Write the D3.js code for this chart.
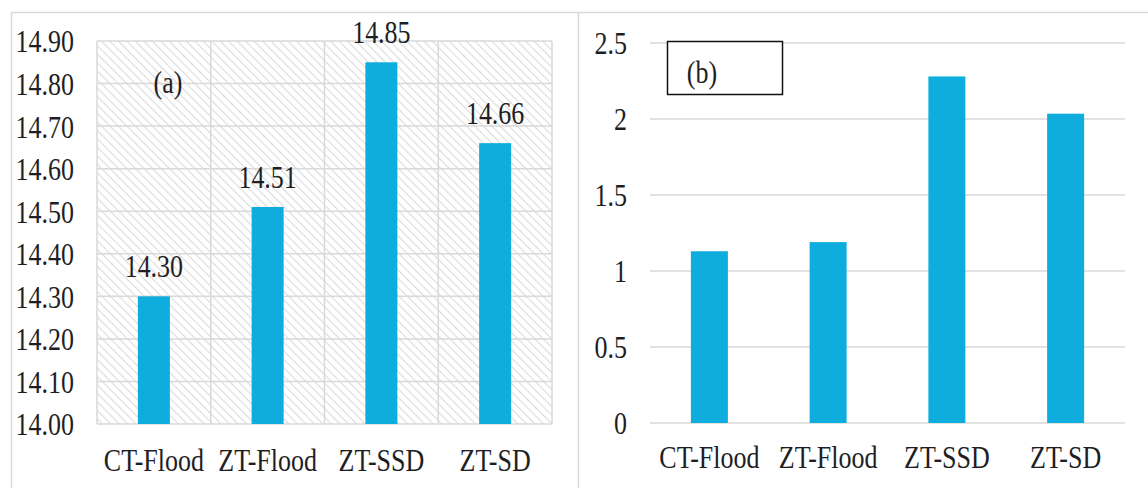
<!DOCTYPE html>
<html><head><meta charset="utf-8">
<script src="https://cdn.jsdelivr.net/npm/d3@7"></script>
<style>html,body{margin:0;padding:0;background:#fff;}svg{display:block;}
svg text{font-family:"Liberation Serif","Times New Roman",Times,serif;}</style>
</head><body>
<svg id="c" width="1148" height="488"></svg>
<script>
const categories = ["CT-Flood", "ZT-Flood", "ZT-SSD", "ZT-SD"];
const valuesA = [14.30, 14.51, 14.85, 14.66];
const labelsA = ["14.30", "14.51", "14.85", "14.66"];
const ticksA = [14.0, 14.1, 14.2, 14.3, 14.4, 14.5, 14.6, 14.7, 14.8, 14.9];
const valuesB = [1.13, 1.19, 2.28, 2.035];
const ticksB = [0, 0.5, 1, 1.5, 2, 2.5];

const FONT = "Liberation Serif";
const TXT = "#1e1e24";
const BAR = "#0eaddd";
const GRID = "#d9d9d9";
const SY = 1.2;

const svg = d3.select("#c");
const defs = svg.append("defs");
const pat = defs.append("pattern").attr("id","hatch").attr("patternUnits","userSpaceOnUse")
  .attr("width",6).attr("height",6).attr("patternTransform","rotate(-45)");
pat.append("rect").attr("width",6).attr("height",6).attr("fill","#fff");
pat.append("line").attr("x1",0).attr("y1",0).attr("x2",0).attr("y2",6)
  .attr("stroke","#dcdcdc").attr("stroke-width",2.2);

// outer frames
svg.append("path").attr("d","M11.5,488 V12.5 H1148 M578.5,12.5 V488")
  .attr("fill","none").attr("stroke",GRID).attr("stroke-width",1.5);

function txt(g, x, y, s, anchor){
  return g.append("text").attr("transform",`translate(${x},${y}) scale(1,${SY})`)
    .attr("text-anchor",anchor||"middle").attr("dy","0.35em")
    .style("font-family",FONT).attr("font-size",26).attr("fill",TXT).text(s);
}

// ---------- panel (a)
{
  const L=97, R=552, T=41, B=424;
  const x = d3.scaleBand().domain(categories).range([L,R]).paddingInner(0).paddingOuter(0);
  const y = d3.scaleLinear().domain([14.0,14.9]).range([B,T]);
  const g = svg.append("g");
  g.append("rect").attr("x",L).attr("y",T).attr("width",R-L).attr("height",B-T).attr("fill","url(#hatch)");
  g.append("g").selectAll("line").data(ticksA).join("line")
    .attr("x1",L).attr("x2",R).attr("y1",d=>y(d)).attr("y2",d=>y(d))
    .attr("stroke",GRID).attr("stroke-width",1.5);
  const bounds = categories.map(c=>x(c)).concat([R]);
  g.append("g").selectAll("line").data(bounds).join("line")
    .attr("x1",d=>d).attr("x2",d=>d).attr("y1",T).attr("y2",B)
    .attr("stroke",GRID).attr("stroke-width",1.5);
  const bw = 32;
  g.append("g").selectAll("rect").data(valuesA).join("rect")
    .attr("x",(d,i)=>x(categories[i])+x.bandwidth()/2-bw/2).attr("width",bw)
    .attr("y",d=>y(d)).attr("height",d=>B-y(d)).attr("fill",BAR);
  valuesA.forEach((v,i)=>txt(g, x(categories[i])+x.bandwidth()/2, y(v)-30, labelsA[i]));
  const ax = d3.axisLeft(y).tickValues(ticksA).tickFormat(d3.format(".2f")).tickSize(0).tickPadding(23);
  const ag = g.append("g").attr("transform",`translate(${L},0)`).call(ax);
  ag.select(".domain").remove();
  ag.attr("font-family",null).attr("font-size",null);
  ag.selectAll("text").style("font-family",FONT).attr("font-size",26).attr("fill",TXT)
    .attr("dy","0.35em").attr("transform",`scale(1,${SY})`);
  categories.forEach(c=>txt(g, x(c)+x.bandwidth()/2, 460, c));
  txt(g, 168, 82, "(a)");
}

// ---------- panel (b)
{
  const L=650, R=1125, T=43, B=423;
  const x = d3.scaleBand().domain(categories).range([L,R]).paddingInner(0).paddingOuter(0);
  const y = d3.scaleLinear().domain([0,2.5]).range([B,T]);
  const g = svg.append("g");
  g.append("g").selectAll("line").data(ticksB).join("line")
    .attr("x1",L).attr("x2",R).attr("y1",d=>y(d)).attr("y2",d=>y(d))
    .attr("stroke",GRID).attr("stroke-width",1.5);
  const bw = 37;
  g.append("g").selectAll("rect").data(valuesB).join("rect")
    .attr("x",(d,i)=>x(categories[i])+x.bandwidth()/2-bw/2).attr("width",bw)
    .attr("y",d=>y(d)).attr("height",d=>B-y(d)).attr("fill",BAR);
  const ax = d3.axisLeft(y).tickValues(ticksB).tickFormat(d=>String(d)).tickSize(0).tickPadding(23);
  const ag = g.append("g").attr("transform",`translate(${L},0)`).call(ax);
  ag.select(".domain").remove();
  ag.attr("font-family",null).attr("font-size",null);
  ag.selectAll("text").style("font-family",FONT).attr("font-size",26).attr("fill",TXT)
    .attr("dy","0.35em").attr("transform",`scale(1,${SY})`);
  categories.forEach(c=>txt(g, x(c)+x.bandwidth()/2, 457, c));
  g.append("rect").attr("x",667.5).attr("y",41.5).attr("width",115).attr("height",53)
    .attr("fill","#fff").attr("stroke","#111").attr("stroke-width",1.5);
  txt(g, 702, 72, "(b)");
}
</script>
</body></html>
